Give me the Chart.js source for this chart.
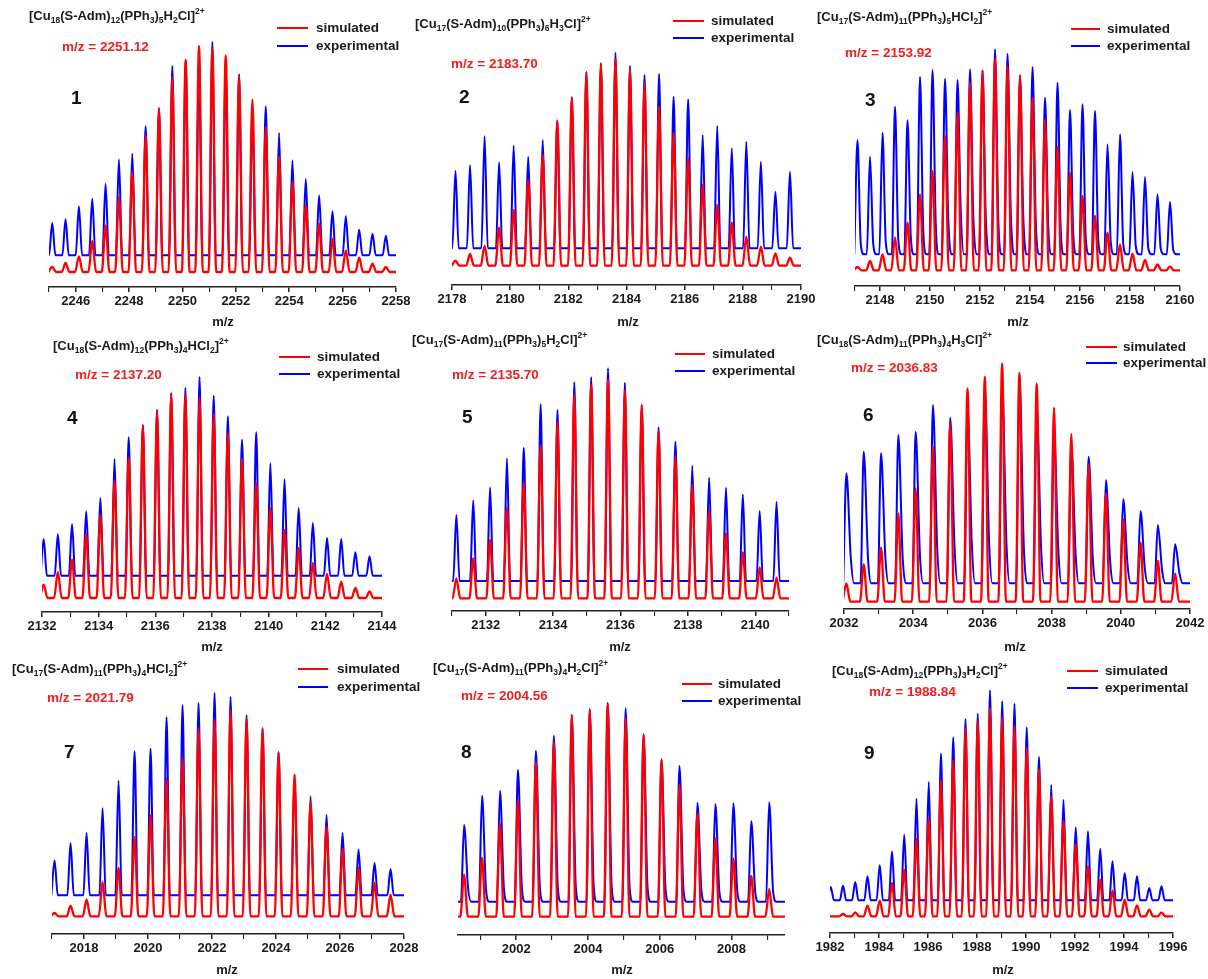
<!DOCTYPE html>
<html><head><meta charset="utf-8">
<script src="https://cdn.jsdelivr.net/npm/chart.js@4.4.1/dist/chart.umd.min.js"></script>
<style>
html,body{margin:0;padding:0;background:#fff;}
body{position:relative;width:1208px;height:979px;overflow:hidden;font-family:"Liberation Sans",Arial,sans-serif;}
canvas{position:absolute;}
.tx{position:absolute;white-space:nowrap;font-weight:bold;height:20px;line-height:20px;color:#1a1a1a;}
.ttl{font-size:13px;}
.ttl sub{font-size:8.5px;vertical-align:-3px;line-height:0;}
.ttl sup{font-size:8.5px;vertical-align:6px;line-height:0;}
.mz{font-size:13.5px;color:#f01e1e;}
.num{font-size:19px;color:#111;}
.leg{font-size:13.5px;}
.axt{font-size:13px;transform:translateX(-50%);}
.ll{position:absolute;height:2.5px;}
</style></head><body>
<script>
// ---------------- DATA ----------------
const titles = [
 '[Cu<sub>18</sub>(S-Adm)<sub>12</sub>(PPh<sub>3</sub>)<sub>5</sub>H<sub>2</sub>Cl]<sup>2+</sup>',
 '[Cu<sub>17</sub>(S-Adm)<sub>10</sub>(PPh<sub>3</sub>)<sub>6</sub>H<sub>3</sub>Cl]<sup>2+</sup>',
 '[Cu<sub>17</sub>(S-Adm)<sub>11</sub>(PPh<sub>3</sub>)<sub>5</sub>HCl<sub>2</sub>]<sup>2+</sup>',
 '[Cu<sub>18</sub>(S-Adm)<sub>12</sub>(PPh<sub>3</sub>)<sub>4</sub>HCl<sub>2</sub>]<sup>2+</sup>',
 '[Cu<sub>17</sub>(S-Adm)<sub>11</sub>(PPh<sub>3</sub>)<sub>5</sub>H<sub>2</sub>Cl]<sup>2+</sup>',
 '[Cu<sub>18</sub>(S-Adm)<sub>11</sub>(PPh<sub>3</sub>)<sub>4</sub>H<sub>3</sub>Cl]<sup>2+</sup>',
 '[Cu<sub>17</sub>(S-Adm)<sub>11</sub>(PPh<sub>3</sub>)<sub>4</sub>HCl<sub>2</sub>]<sup>2+</sup>',
 '[Cu<sub>17</sub>(S-Adm)<sub>11</sub>(PPh<sub>3</sub>)<sub>4</sub>H<sub>2</sub>Cl]<sup>2+</sup>',
 '[Cu<sub>18</sub>(S-Adm)<sub>12</sub>(PPh<sub>3</sub>)<sub>3</sub>H<sub>2</sub>Cl]<sup>2+</sup>'
];
const mzLabels = ['2251.12','2183.70','2153.92','2137.20','2135.70','2036.83','2021.79','2004.56','1988.84'];
const seriesNames = ['simulated','experimental'];
const axisTitle = 'm/z';

// x-axis ranges [min, max]
const ranges = [[2245,2258],[2178,2190],[2147,2160],[2132,2144],[2131,2141],[2032,2042],[2017,2028],[2000.38,2009.49],[1982,1996]];

// baselines (intensity, arbitrary units above axis) [simulated, experimental]
const baselines = [[15.0,31.7],[19.3,36.7],[15.7,31.7],[14.0,36.3],[12.7,30.0],[7.3,25.7],[17.7,38.7],[18.3,33.3],[16.7,32.7]];

// panel 1
const mz1 = [2245.12,2245.62,2246.12,2246.62,2247.12,2247.62,2248.12,2248.62,2249.12,2249.62,2250.12,2250.62,2251.12,2251.62,2252.12,2252.62,2253.12,2253.62,2254.12,2254.62,2255.12,2255.62,2256.12,2256.62,2257.12,2257.62];
const sim1 = [20.0,24.0,30.7,46.0,61.7,90.0,115.0,151.7,178.3,210.0,227.3,241.0,238.3,231.7,211.7,187.7,160.0,130.0,105.0,81.7,63.3,48.3,36.7,29.3,23.3,20.0];
const exp1 = [64.0,67.7,80.7,88.3,103.3,127.7,133.3,160.7,179.0,221.0,226.7,230.0,245.0,222.7,212.7,175.0,180.7,154.0,126.7,108.0,91.7,75.7,70.7,57.3,53.3,51.3];
// panel 2
const mz2 = [2178.12,2178.62,2179.12,2179.62,2180.12,2180.62,2181.12,2181.62,2182.12,2182.62,2183.12,2183.62,2184.12,2184.62,2185.12,2185.62,2186.12,2186.62,2187.12,2187.62,2188.12,2188.62,2189.12,2189.62];
const sim2 = [24.3,31.0,39.0,57.3,75.0,105.0,130.0,164.3,187.7,212.7,221.7,226.7,216.7,201.7,178.3,152.3,126.7,100.0,80.0,62.3,48.3,38.3,31.7,27.3];
const exp2 = [114.3,120.0,149.0,122.7,139.3,128.3,145.0,164.3,187.7,213.3,221.7,232.3,219.0,210.0,211.0,188.3,185.7,150.0,159.0,136.7,143.3,123.3,93.3,113.3];
// panel 3
const mz3 = [2147.1,2147.6,2148.1,2148.6,2149.1,2149.6,2150.1,2150.6,2151.1,2151.6,2152.1,2152.6,2153.1,2153.6,2154.1,2154.6,2155.1,2155.6,2156.1,2156.6,2157.1,2157.6,2158.1,2158.6,2159.1,2159.6];
const sim3 = [19.0,25.0,31.7,48.3,63.3,91.7,115.0,150.7,173.3,203.3,215.7,227.3,220.0,210.7,188.3,166.7,139.3,113.3,90.0,70.0,53.3,41.7,32.3,26.0,21.7,19.7];
const exp3 = [145.7,129.3,153.3,179.3,165.7,209.3,216.0,207.3,206.0,216.7,215.7,236.7,232.3,210.7,219.0,188.3,203.3,176.0,181.7,175.0,141.7,151.7,114.0,109.0,91.7,84.3];
const sh3  = [42,42,44,47,50,56,62,68,75,72,70,68,75,70,66,60,56,52,48,46,44,42,40,38,37,36];
// panel 4
const mz4 = [2132.06,2132.56,2133.06,2133.56,2134.06,2134.56,2135.06,2135.56,2136.06,2136.56,2137.06,2137.56,2138.06,2138.56,2139.06,2139.56,2140.06,2140.56,2141.06,2141.56,2142.06,2142.56,2143.06,2143.56];
const sim4 = [27.3,40.0,52.3,78.0,97.3,131.3,154.7,186.3,201.3,218.3,218.0,214.7,198.0,179.0,153.3,129.0,104.0,82.3,64.0,49.0,38.0,30.0,24.0,20.7];
const exp4 = [73.0,77.7,88.0,100.7,114.0,153.0,174.7,187.3,202.3,219.0,224.0,235.0,216.3,195.7,172.3,179.7,149.0,133.0,104.0,89.0,74.0,73.0,59.7,55.7];
// panel 5
const mz5 = [2131.13,2131.63,2132.13,2132.63,2133.13,2133.63,2134.13,2134.63,2135.13,2135.63,2136.13,2136.63,2137.13,2137.63,2138.13,2138.63,2139.13,2139.63,2140.13,2140.63];
const sim5 = [32.7,52.7,71.0,103.3,128.7,166.0,189.3,216.7,226.0,231.0,221.0,206.0,180.0,154.3,126.0,100.0,77.7,58.7,43.7,33.3];
const exp5 = [96.0,110.7,123.7,152.7,163.3,206.7,201.0,228.7,233.7,242.7,228.3,206.0,183.7,169.3,145.3,133.3,123.3,116.7,100.0,109.3];
// panel 6
const mz6 = [2032.07,2032.57,2033.07,2033.57,2034.07,2034.57,2035.07,2035.57,2036.07,2036.57,2037.07,2037.57,2038.07,2038.57,2039.07,2039.57,2040.07,2040.57,2041.07,2041.57];
const sim6 = [25.7,44.7,61.3,95.7,120.7,162.3,186.7,220.7,232.3,245.7,236.3,225.7,201.3,175.0,144.0,115.7,89.7,66.7,48.0,35.7];
const exp6 = [135.7,157.3,155.7,174.0,177.3,204.0,191.3,200.7,222.3,225.7,234.0,202.3,176.7,162.3,152.3,129.0,110.0,98.0,84.0,64.7];
const sh6  = [52,50,52,52,54,60,62,64,66,66,64,62,58,54,48,46,44,40,38,36];
// panel 7
const mz7 = [2017.08,2017.58,2018.08,2018.58,2019.08,2019.58,2020.08,2020.58,2021.08,2021.58,2022.08,2022.58,2023.08,2023.58,2024.08,2024.58,2025.08,2025.58,2026.08,2026.58,2027.08,2027.58];
const sim7 = [21.0,28.3,34.3,52.0,66.0,97.0,118.3,155.0,175.3,206.0,214.3,223.7,216.0,205.0,181.7,159.3,131.7,107.7,85.0,66.0,51.0,39.3];
const exp7 = [73.7,91.0,101.0,126.0,153.3,182.7,185.3,216.7,228.7,231.0,241.0,237.0,218.7,206.0,182.0,159.3,137.7,119.3,101.0,84.3,71.0,65.0];
// panel 8
const mz8 = [2000.55,2001.05,2001.55,2002.05,2002.55,2003.05,2003.55,2004.05,2004.55,2005.05,2005.55,2006.05,2006.55,2007.05,2007.55,2008.05,2008.55,2009.05];
const sim8 = [60.0,77.3,111.7,135.0,173.3,193.3,220.0,225.7,230.7,216.7,200.7,175.7,150.0,121.7,96.7,76.7,59.0,46.0];
const exp8 = [110.0,139.3,144.3,165.0,184.3,199.3,220.0,225.7,232.3,226.7,200.7,175.7,169.0,132.3,131.0,131.7,114.0,132.7];
const sh8  = [47,46,46,47,48,48,49,49,49,48,48,47,46,45,44,44,43,43];
// panel 9
const mz9 = [1982.03,1982.53,1983.03,1983.53,1984.03,1984.53,1985.03,1985.53,1986.03,1986.53,1987.03,1987.53,1988.03,1988.53,1989.03,1989.53,1990.03,1990.53,1991.03,1991.53,1992.03,1992.53,1993.03,1993.53,1994.03,1994.53,1995.03,1995.53];
const sim9 = [16.7,19.0,20.7,27.3,32.3,50.0,63.3,94.0,114.3,152.3,172.7,204.0,212.3,225.0,216.0,207.3,185.0,163.3,136.7,111.7,89.0,66.7,53.3,42.7,33.3,27.7,23.3,20.7];
const exp9 = [46.0,47.3,51.0,56.7,67.7,81.7,98.3,134.3,151.0,179.3,195.7,214.0,219.3,242.7,231.7,229.3,205.7,176.0,148.3,133.3,105.7,101.7,84.3,71.7,60.0,56.7,45.0,46.7];

// shoulder (second species) offset in m/z after each experimental peak
const shoulderOffset = [0, 0, 0.13, 0, 0, 0.125, 0, 0.11, 0];

// ---------------- LAYOUT (pixel positions, styles) ----------------
const layouts = [
 {x0:49, x1:396, y:287, title:[29,16],  mz:[62,47],  num:[71,98],  leg:[277,308,28,46,316],   axt:[223,322]},
 {x0:452,x1:801, y:285, title:[415,24], mz:[451,64], num:[459,97], leg:[673,704,21,38,711],   axt:[628,322]},
 {x0:855,x1:1180,y:286, title:[817,17], mz:[845,53], num:[865,100],leg:[1071,1100,29,46,1107],axt:[1018,322]},
 {x0:42, x1:382, y:612, title:[53,346], mz:[75,375], num:[67,418], leg:[279,310,357,374,317], axt:[212,647]},
 {x0:452,x1:789, y:611, title:[412,340],mz:[452,375],num:[462,417],leg:[675,705,354,371,712], axt:[620,647]},
 {x0:844,x1:1190,y:609, title:[817,340],mz:[851,368],num:[863,415],leg:[1086,1117,347,363,1123],axt:[1015,647]},
 {x0:52, x1:404, y:934, title:[12,669], mz:[47,698], num:[64,752], leg:[298,328,669,687,337], axt:[227,970]},
 {x0:458,x1:785, y:935, title:[433,668],mz:[461,696],num:[461,752],leg:[682,712,684,701,718], axt:[622,970]},
 {x0:830,x1:1173,y:933, title:[832,671],mz:[869,692],num:[864,753],leg:[1067,1098,671,688,1105],axt:[1003,970]}
];
const PAD = 26, TOPPAD = 20, YMAX = 260, XAX_H = 30;
const RED = '#ff0000', BLUE = '#0000ff';

const mzs = [mz1,mz2,mz3,mz4,mz5,mz6,mz7,mz8,mz9];
const sims = [sim1,sim2,sim3,sim4,sim5,sim6,sim7,sim8,sim9];
const exps = [exp1,exp2,exp3,exp4,exp5,exp6,exp7,exp8,exp9];
const shs  = [null,null,sh3,null,null,sh6,null,sh8,null];

// build a line trace: baseline, then each peak (base -> top -> [shoulder] -> base)
function trace(mz, h, base, w, xmin, xmax, sh, off){
  const pts = [];
  if (xmin < mz[0]-w) pts.push({x:xmin,y:base});
  mz.forEach((m,i)=>{
    pts.push({x:m-w,y:base},{x:m,y:h[i]});
    if (sh) pts.push({x:m+off,y:sh[i]},{x:m+off+w,y:base});
    else pts.push({x:m+w,y:base});
  });
  const last = pts[pts.length-1].x;
  if (xmax > last) pts.push({x:xmax,y:base});
  return pts;
}

function addText(cls, html, left, cy){
  const d = document.createElement('div');
  d.className = 'tx ' + cls;
  d.innerHTML = html;
  d.style.left = left + 'px';
  d.style.top = (cy - 10) + 'px';
  document.body.appendChild(d);
}
function addLine(x1, x2, y, color){
  const d = document.createElement('div');
  d.className = 'll';
  d.style.left = x1 + 'px'; d.style.width = (x2 - x1) + 'px';
  d.style.top = (y - 1.25) + 'px'; d.style.background = color;
  document.body.appendChild(d);
}

Chart.defaults.font.family = '"Liberation Sans", Arial, sans-serif';

layouts.forEach((L, i) => {
  const [xmin, xmax] = ranges[i];
  const pxPerUnit = (L.x1 - L.x0) / (xmax - xmin);
  const wSim = 3.8 / pxPerUnit, wExp = 3.2 / pxPerUnit;
  const cv = document.createElement('canvas');
  const W = (L.x1 - L.x0) + 2*PAD, H = TOPPAD + YMAX + XAX_H;
  cv.width = W; cv.height = H;
  cv.style.left = (L.x0 - PAD) + 'px';
  cv.style.top = (L.y - YMAX - TOPPAD) + 'px';
  cv.style.width = W + 'px'; cv.style.height = H + 'px';
  document.body.appendChild(cv);

  new Chart(cv, {
    type: 'line',
    data: { datasets: [
      { label: seriesNames[0], data: trace(mzs[i], sims[i], baselines[i][0], wSim, xmin, xmax, null, 0),
        borderColor: RED, borderWidth: 2.3, pointRadius: 0, fill: false,
        cubicInterpolationMode: 'monotone', order: 0 },
      { label: seriesNames[1], data: trace(mzs[i], exps[i], baselines[i][1], wExp, xmin, xmax, shs[i], shoulderOffset[i]),
        borderColor: BLUE, borderWidth: 2, pointRadius: 0, fill: false,
        cubicInterpolationMode: 'monotone', order: 1 }
    ]},
    options: {
      responsive: false, animation: false, devicePixelRatio: 1, events: [],
      layout: { padding: { left: PAD, right: PAD, top: TOPPAD, bottom: 0 } },
      plugins: { legend: { display: false }, tooltip: { enabled: false }, title: { display: false } },
      scales: {
        x: {
          type: 'linear', min: xmin, max: xmax,
          afterFit: s => { s.height = XAX_H; },
          border: { display: true, color: '#222', width: 1.5 },
          grid: { display: true, drawOnChartArea: false, drawTicks: true, tickLength: 5, color: '#222',
                  lineWidth: ctx => (ctx.tick && Math.abs(ctx.tick.value % 2) < 1e-6 ? 1.5 : 1.1) },
          ticks: { stepSize: 1, includeBounds: false, autoSkip: false, maxRotation: 0, minRotation: 0, padding: 2,
                   color: '#1a1a1a', font: { size: 13, weight: 'bold' },
                   callback: v => (Math.abs(v % 2) < 1e-6 ? String(v) : '') }
        },
        y: { display: false, min: 0, max: YMAX }
      }
    }
  });

  addText('ttl', titles[i], L.title[0], L.title[1]);
  addText('mz', 'm/z = ' + mzLabels[i], L.mz[0], L.mz[1]);
  addText('num', String(i + 1), L.num[0], L.num[1]);
  addLine(L.leg[0], L.leg[1], L.leg[2], RED);
  addLine(L.leg[0], L.leg[1], L.leg[3], BLUE);
  addText('leg', seriesNames[0], L.leg[4], L.leg[2]);
  addText('leg', seriesNames[1], L.leg[4], L.leg[3]);
  addText('axt', axisTitle, L.axt[0], L.axt[1]);
});
</script>
</body></html>
